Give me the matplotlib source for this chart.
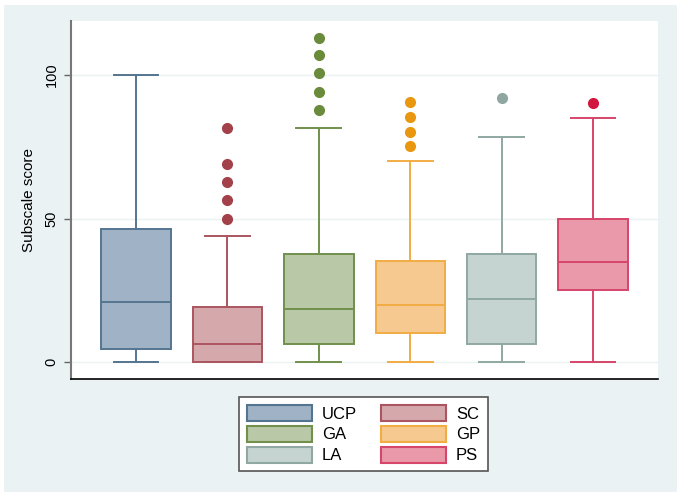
import matplotlib
matplotlib.use("Agg")
import matplotlib.pyplot as plt
from matplotlib.patches import Patch, Rectangle

plt.rcParams["font.family"] = ["Liberation Sans", "DejaVu Sans"]

# Box summaries (Subscale score)
groups = ["UCP", "SC", "GA", "GP", "LA", "PS"]
whisk_lo = [0, 0, 0, 0, 0, 0]
q1 = [4.4, 0, 6.4, 10.3, 6.4, 25.0]
medians = [20.8, 6.2, 18.6, 20.0, 21.8, 34.9]
q3 = [46.2, 19.1, 37.6, 35.1, 37.6, 50.0]
whisk_hi = [100, 43.8, 81.4, 70.0, 78.3, 85.1]
outliers = [
    [],
    [50.0, 56.4, 62.8, 69.1, 81.5],
    [87.8, 94.2, 100.6, 106.8, 112.8],
    [75.1, 80.1, 85.2, 90.5],
    [92.1],
    [90.3],
]

face_cols = ["#9fb2c6", "#d5a8ac", "#b9c8a6", "#f5c98f", "#c5d4d0", "#e999a9"]
edge_cols = ["#547590", "#ab5560", "#71904c", "#f2ac44", "#90a8a2", "#d6456a"]
flier_cols = ["#547590", "#a3414b", "#6a8b3b", "#e9970f", "#8fa7a0", "#d1173f"]

bg = "#eaf2f3"

fig = plt.figure(figsize=(6.81, 4.97), dpi=100)
fig.patch.set_facecolor("white")
fig.patches.append(Rectangle((4 / 681, 5 / 497), 673 / 681, 487 / 497,
                             transform=fig.transFigure, facecolor=bg,
                             edgecolor="none", zorder=-10))

ax = fig.add_axes([0.1043, 0.2374, 0.862, 0.7203])
ax.set_facecolor("white")

stats = []
for i, g in enumerate(groups):
    stats.append(dict(label=g, whislo=whisk_lo[i], q1=q1[i], med=medians[i],
                      q3=q3[i], whishi=whisk_hi[i], fliers=outliers[i]))

pos = list(range(1, len(groups) + 1))
lw = 1.4
for i, st in enumerate(stats):
    ax.bxp([st], positions=[pos[i]], widths=0.76, patch_artist=True,
           showfliers=True, manage_ticks=False,
           boxprops=dict(facecolor=face_cols[i], edgecolor=edge_cols[i], linewidth=lw),
           medianprops=dict(color=edge_cols[i], linewidth=lw),
           whiskerprops=dict(color=edge_cols[i], linewidth=lw),
           capprops=dict(color=edge_cols[i], linewidth=lw),
           capwidths=0.49,
           flierprops=dict(marker="o", markerfacecolor=flier_cols[i],
                           markeredgecolor=flier_cols[i], markersize=7))

ax.set_xlim(0.289, 6.711)
ax.set_ylim(-5.9, 118.8)
ax.set_xticks([])
ax.set_yticks([0, 50, 100])
ax.set_yticklabels(["0", "50", "100"], rotation=90, va="center", fontsize=10.5)
ax.tick_params(axis="y", length=5, width=1, color="#666666", pad=4)
ax.grid(axis="y", color=bg, linewidth=1)
ax.set_axisbelow(True)
ax.set_ylabel("Subscale score", fontsize=11, labelpad=6)

for s in ["top", "right"]:
    ax.spines[s].set_visible(False)
ax.spines["left"].set_color("#777777")
ax.spines["left"].set_linewidth(1.5)
ax.spines["bottom"].set_color("black")
ax.spines["bottom"].set_linewidth(1.2)

handles = [Patch(facecolor=face_cols[i], edgecolor=edge_cols[i], linewidth=1.5,
                 label=groups[i]) for i in range(len(groups))]
# order rows: UCP SC / GA GP / LA PS with ncol=2 (column-major fill)
order = [0, 2, 4, 1, 3, 5]
leg = fig.legend([handles[i] for i in order], [groups[i] for i in order],
                 loc="upper center", bbox_to_anchor=(0.5338, 0.2173), ncol=2,
                 fontsize=12, handlelength=3.9, handleheight=1.1,
                 labelspacing=0.25, columnspacing=1.45, handletextpad=0.6,
                 borderpad=0.45, fancybox=False, framealpha=1)
leg.get_frame().set_edgecolor("#555555")
leg.get_frame().set_linewidth(1.2)

fig.savefig("out.png", dpi=100, facecolor=fig.get_facecolor())
